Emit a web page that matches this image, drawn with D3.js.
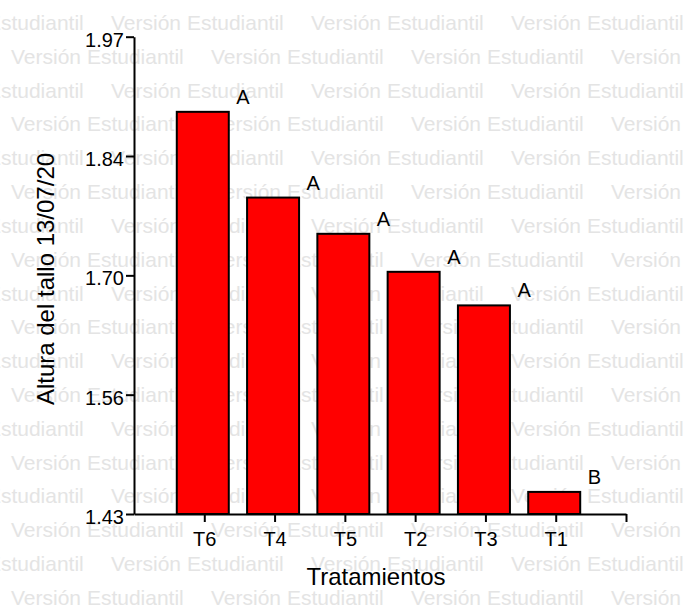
<!DOCTYPE html>
<html>
<head>
<meta charset="utf-8">
<script src="https://cdn.jsdelivr.net/npm/d3@7"></script>
<style>
  html, body { margin: 0; padding: 0; background: #fff; }
  svg { display: block; }
  text { font-family: "Liberation Sans", Arial, sans-serif; }
</style>
</head>
<body>
<div id="chart"></div>
<script>
let width = 684,
    height = 610;

// data
const categories = ["T6", "T4", "T5", "T2", "T3", "T1"];
const alturas = [1.885, 1.788, 1.747, 1.704, 1.666, 1.455];
const letras = ["A", "A", "A", "A", "A", "B"];
const yTicks = [1.43, 1.565, 1.70, 1.835, 1.97];
const yTickLabels = ["1.43", "1.56", "1.70", "1.84", "1.97"];

const plotLeft = 134, plotRight = 626, plotTop = 36.7, plotBottom = 514;

const x = d3.scaleLinear()
    .domain([0, categories.length + 1])
    .range([plotLeft, plotRight]);

const y = d3.scaleLinear()
    .domain([1.43, 1.97])
    .range([plotBottom, plotTop]);

const svg = d3.select("#chart").append("svg")
    .attr("width", width)
    .attr("height", height);

// watermark rows
const wm = svg.append("g")
    .attr("fill", "#e4e4e4")
    .attr("font-size", 21);

d3.range(18).forEach(r => {
    const start = r % 2 === 0 ? -89 : 11;
    d3.range(start, width, 200).forEach(px => {
        wm.append("text")
            .attr("x", px)
            .attr("y", 30 + r * 33.82)
            .text("Versión Estudiantil");
    });
});

// bars
const barW = 52;
svg.append("g")
    .selectAll("rect")
    .data(alturas)
    .enter()
    .append("rect")
    .attr("x", (d, i) => x(i + 1) - barW / 2 - 1.5)
    .attr("y", d => y(d))
    .attr("width", barW)
    .attr("height", d => y(1.43) - y(d))
    .attr("fill", "#ff0000")
    .attr("stroke", "#000")
    .attr("stroke-width", 2);

// significance letters
svg.append("g")
    .attr("font-size", 20)
    .selectAll("text")
    .data(letras)
    .enter()
    .append("text")
    .attr("x", (d, i) => x(i + 1) + barW / 2 + 6)
    .attr("y", (d, i) => y(alturas[i]) - 8)
    .text(d => d);

// y axis
const yAxis = svg.append("g")
    .attr("transform", `translate(${plotLeft},0)`)
    .call(
        d3.axisLeft(y)
            .tickValues(yTicks)
            .tickFormat((d, i) => yTickLabels[i])
            .tickSize(8)
            .tickSizeOuter(0)
            .tickPadding(2)
    );

yAxis.selectAll("text")
    .attr("font-size", 20)
    .attr("fill", "#000")
    .attr("dy", "0.48em")
    .style("font-family", "'Liberation Sans', Arial, sans-serif");

// x axis
const xAxis = svg.append("g")
    .attr("transform", `translate(0,${plotBottom})`)
    .call(
        d3.axisBottom(x)
            .tickValues(d3.range(1, categories.length + 2))
            .tickFormat(d => categories[d - 1] || "")
            .tickSize(8)
            .tickSizeOuter(0)
            .tickPadding(10)
    );

xAxis.selectAll("text")
    .attr("font-size", 20)
    .attr("fill", "#000")
    .style("font-family", "'Liberation Sans', Arial, sans-serif");

svg.selectAll(".domain, .tick line")
    .attr("stroke", "#000")
    .attr("stroke-width", 2);

// axis titles
svg.append("text")
    .attr("x", 376)
    .attr("y", 585)
    .attr("text-anchor", "middle")
    .attr("font-size", 24)
    .text("Tratamientos");

svg.append("text")
    .attr("transform", "rotate(-90)")
    .attr("x", -279)
    .attr("y", 54)
    .attr("text-anchor", "middle")
    .attr("font-size", 24)
    .text("Altura del tallo 13/07/20");
</script>
</body>
</html>
